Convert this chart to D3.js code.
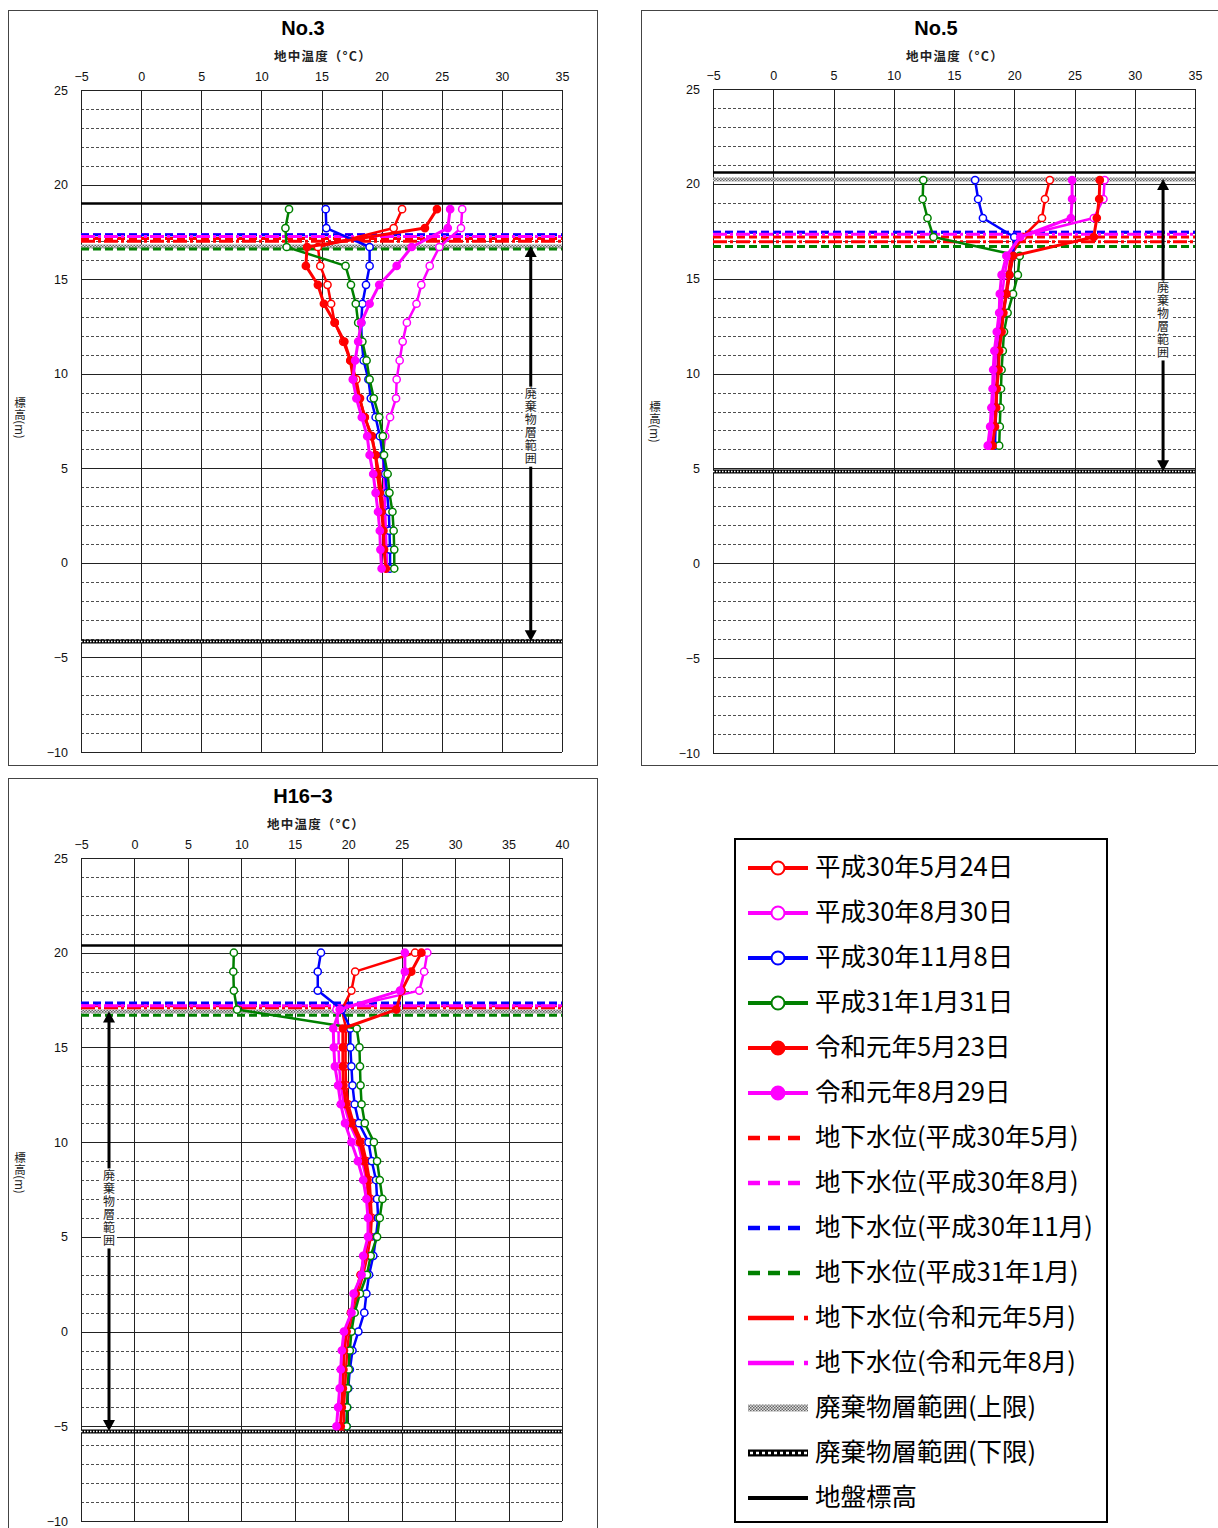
<!DOCTYPE html>
<html><head><meta charset="utf-8">
<script src="https://cdn.jsdelivr.net/npm/d3@7"></script>
<style>body{margin:0;background:#fff}svg{display:block}</style>
</head><body>
<svg id="c" width="1218" height="1528"></svg>
<script>
// ---------------- DATA ----------------
const seriesNames = ["平成30年5月24日","平成30年8月30日","平成30年11月8日","平成31年1月31日","令和元年5月23日","令和元年8月29日"];
const waterNames = ["地下水位(平成30年5月)","地下水位(平成30年8月)","地下水位(平成30年11月)","地下水位(平成31年1月)","地下水位(令和元年5月)","地下水位(令和元年8月)"];
const otherNames = ["廃棄物層範囲(上限)","廃棄物層範囲(下限)","地盤標高"];
const xTicks35 = [-5,0,5,10,15,20,25,30,35];
const xTicks40 = [-5,0,5,10,15,20,25,30,35,40];
const yTicks = [25,20,15,10,5,0,-5,-10];

// No.3
const no3Depth = [18.7,17.7,16.7,15.7,14.7,13.7,12.7,11.7,10.7,9.7,8.7,7.7,6.7,5.7,4.7,3.7,2.7,1.7,0.7,-0.3];
const no3_H30_05 = [21.7,21.0,14.7,14.9,15.5,15.8,16.1,16.8,17.4,17.9,18.2,18.6,19.2,19.5,19.8,20.0,20.2,20.3,20.35,20.4];
const no3_H30_08 = [26.7,26.6,24.8,24.0,23.3,22.9,22.1,21.75,21.5,21.25,21.2,20.7,20.3,20.1,20.2,20.25,20.3,20.35,20.4,20.45];
const no3_H30_11 = [15.35,15.4,19.0,19.0,18.7,18.4,18.3,18.35,18.5,18.9,19.1,19.5,19.85,20.1,20.3,20.45,20.6,20.65,20.7,20.7];
const no3_H31_01 = [12.3,12.0,12.1,17.0,17.45,17.85,18.05,18.4,18.75,19.0,19.35,19.8,20.1,20.2,20.5,20.65,20.9,21.0,21.05,21.05];
const no3_R1_05 = [24.6,23.6,13.8,13.7,14.7,15.2,16.1,16.9,17.4,17.65,18.15,18.6,19.15,19.5,19.65,19.85,20.0,20.15,20.2,20.35];
const no3_R1_08 = [25.7,25.5,22.5,21.25,19.8,19.0,18.3,18.05,17.8,17.6,17.9,18.35,18.8,19.0,19.3,19.5,19.7,19.85,19.9,20.0];
const no3Water = [17.15,17.35,17.35,16.6,17.0,17.25];
const no3Ground = 19.0, no3WasteTop = 16.75, no3WasteBottom = -4.15;

// No.5
const no5Depth = [20.2,19.2,18.2,17.2,16.2,15.2,14.2,13.2,12.2,11.2,10.2,9.2,8.2,7.2,6.2];
const no5_H30_05 = [22.95,22.55,22.3,20.7,19.7,19.5,19.3,19.05,18.85,18.7,18.6,18.5,18.45,18.35,18.3];
const no5_H30_08 = [27.5,27.4,26.6,20.3,19.5,19.2,19.0,18.9,18.7,18.5,18.4,18.3,18.25,18.15,18.0];
const no5_H30_11 = [16.75,17.0,17.4,20.0,19.9,19.6,19.35,19.1,18.9,18.75,18.65,18.55,18.5,18.45,18.4];
const no5_H31_01 = [12.45,12.4,12.8,13.3,20.45,20.3,19.9,19.45,19.15,19.05,18.95,18.9,18.85,18.8,18.75];
const no5_R1_05 = [27.1,27.05,26.85,26.6,19.9,19.6,19.35,19.1,18.95,18.75,18.7,18.55,18.5,18.4,18.2];
const no5_R1_08 = [24.8,24.8,24.7,20.5,19.35,18.95,18.8,18.75,18.55,18.35,18.25,18.2,18.1,18.0,17.8];
const no5Water = [17.2,17.45,17.45,16.7,16.95,17.35];
const no5Ground = 20.6, no5WasteTop = 20.25, no5WasteBottom = 4.85;

// H16-3
const h163Depth = [20,19,18,17,16,15,14,13,12,11,10,9,8,7,6,5,4,3,2,1,0,-1,-2,-3,-4,-5];
const h163_H30_05 = [26.25,20.65,20.3,19.4,19.8,19.75,19.75,19.8,20.0,20.5,21.3,21.7,22.0,22.1,22.2,22.1,21.8,21.4,20.9,20.4,20.1,19.9,19.8,19.7,19.6,19.6];
const h163_H30_08 = [27.4,27.1,26.65,18.9,19.1,19.1,19.15,19.3,19.6,20.1,20.9,21.3,21.7,21.9,22.0,21.95,21.6,21.3,20.7,20.3,19.9,19.65,19.55,19.45,19.35,19.25];
const h163_H30_11 = [17.45,17.15,17.15,19.4,20.2,20.2,20.3,20.4,20.6,21.0,21.9,22.2,22.6,22.7,22.8,22.6,22.35,21.95,21.7,21.5,20.95,20.4,20.15,20.0,19.9,19.85];
const h163_H31_01 = [9.3,9.25,9.3,9.6,20.8,21.05,21.1,21.15,21.25,21.55,22.4,22.7,22.95,23.2,22.95,22.7,22.1,21.75,21.1,20.6,20.3,20.15,20.05,19.95,19.9,19.85];
const h163_R1_05 = [26.85,25.9,25.0,24.5,19.5,19.5,19.5,19.55,19.8,20.3,21.1,21.5,21.8,21.9,22.0,21.9,21.55,21.15,20.7,20.25,19.85,19.6,19.55,19.5,19.4,19.3];
const h163_R1_08 = [25.3,25.3,24.85,19.2,18.6,18.65,18.75,19.05,19.3,19.7,20.3,20.9,21.4,21.7,21.85,21.85,21.4,21.25,20.5,20.3,19.6,19.4,19.3,19.2,19.05,18.9];
const h163Water = [17.2,17.25,17.35,16.7,17.1,17.2];
const h163Ground = 20.4, h163WasteTop = 16.9, h163WasteBottom = -5.25;

// ---------------- STYLES ----------------
const sStyle = [
  {c:"#ff0000", filled:false},{c:"#ff00ff", filled:false},{c:"#0000ff", filled:false},
  {c:"#008000", filled:false},{c:"#ff0000", filled:true},{c:"#ff00ff", filled:true}];
const wStyle = [
  {c:"#ff0000", d:"8,4"},{c:"#ff00ff", d:"8,4"},{c:"#0000ff", d:"8,4"},
  {c:"#008000", d:"8,4"},{c:"#ff0000", d:"14,3,3,3"},{c:"#ff00ff", d:"14,3,3,3"}];
const NUMF = "'Liberation Sans', Arial, sans-serif";
const JPF = "'Noto Sans CJK JP', sans-serif";

const svg = d3.select("#c");
const defs = svg.append("defs");
const pat = defs.append("pattern").attr("id","hatch").attr("width",3).attr("height",3).attr("patternUnits","userSpaceOnUse");
pat.append("rect").attr("width",3).attr("height",3).attr("fill","#e0e0e0");
pat.append("rect").attr("width",1.5).attr("height",1.5).attr("fill","#666");
pat.append("rect").attr("x",1.5).attr("y",1.5).attr("width",1.5).attr("height",1.5).attr("fill","#666");

const fmt = d => d < 0 ? "\u2212" + Math.abs(d) : String(d);

function drawPanel(p) {
  const g = svg.append("g");
  g.append("rect").attr("x",p.frame[0]+0.5).attr("y",p.frame[1]+0.5)
    .attr("width",p.frame[2]).attr("height",p.frame[3])
    .attr("fill","none").attr("stroke","#444").attr("stroke-width",1);
  const x = d3.scaleLinear().domain([p.xTicks[0], p.xTicks[p.xTicks.length-1]]).range([p.plot.x0,p.plot.x1]);
  const y = d3.scaleLinear().domain([-10,25]).range([p.plot.y1,p.plot.y0]);

  // titles
  g.append("text").attr("x",p.titleX).attr("y",p.titleY).attr("text-anchor","middle")
    .attr("dominant-baseline","middle").attr("font-family",NUMF).attr("font-weight","bold")
    .attr("font-size",20).text(p.name);
  g.append("text").attr("x",p.xlabX).attr("y",p.xlabY).attr("text-anchor","middle")
    .attr("dominant-baseline","middle").attr("font-family",JPF).attr("font-size",12.5)
    .attr("letter-spacing",1.2).attr("font-weight","bold").attr("fill","#222")
    .text("地中温度（°C）");
  g.append("text").attr("x",p.ylabX).attr("y",p.ylabY).attr("text-anchor","middle")
    .attr("font-family",JPF).attr("font-size",11.5).attr("fill","#222")
    .style("writing-mode","vertical-rl").text("標高(m)");

  // grid
  const minor = d3.range(-9,25).filter(v => v % 5 !== 0);
  g.append("g").selectAll("line").data(minor).join("line")
    .attr("x1",p.plot.x0).attr("x2",p.plot.x1)
    .attr("y1",d=>Math.round(y(d))+0.5).attr("y2",d=>Math.round(y(d))+0.5)
    .attr("stroke","#222").attr("stroke-width",0.8).attr("stroke-dasharray","3,2");
  g.append("g").selectAll("line").data(yTicks).join("line")
    .attr("x1",p.plot.x0).attr("x2",p.plot.x1)
    .attr("y1",d=>Math.round(y(d))+0.5).attr("y2",d=>Math.round(y(d))+0.5)
    .attr("stroke","#222").attr("stroke-width",1);
  g.append("g").selectAll("line").data(p.xTicks).join("line")
    .attr("y1",p.plot.y0).attr("y2",p.plot.y1)
    .attr("x1",d=>Math.round(x(d))+0.5).attr("x2",d=>Math.round(x(d))+0.5)
    .attr("stroke","#222").attr("stroke-width",1);

  // axes
  const ax = g.append("g").attr("transform",`translate(0,${p.plot.y0})`)
    .call(d3.axisTop(x).tickValues(p.xTicks).tickSize(0).tickPadding(9).tickFormat(fmt));
  ax.select(".domain").remove();
  ax.selectAll("text").attr("font-family",NUMF).attr("font-size",12.5).attr("fill","#111");
  const ay = g.append("g").attr("transform",`translate(${p.plot.x0},0)`)
    .call(d3.axisLeft(y).tickValues(yTicks).tickSize(0).tickPadding(13).tickFormat(fmt));
  ay.select(".domain").remove();
  ay.selectAll("text").attr("font-family",NUMF).attr("font-size",12.5).attr("fill","#111");

  // horizontal reference lines
  const hl = (v) => Math.round(y(v))+0.5;
  g.append("line").attr("x1",p.plot.x0).attr("x2",p.plot.x1).attr("y1",hl(p.ground)).attr("y2",hl(p.ground))
    .attr("stroke","#000").attr("stroke-width",2.5);
  g.append("line").attr("x1",p.plot.x0).attr("x2",p.plot.x1).attr("y1",hl(p.wasteTop)).attr("y2",hl(p.wasteTop))
    .attr("stroke","url(#hatch)").attr("stroke-width",4);
  g.append("line").attr("x1",p.plot.x0).attr("x2",p.plot.x1).attr("y1",hl(p.wasteBottom)).attr("y2",hl(p.wasteBottom))
    .attr("stroke","#000").attr("stroke-width",4);
  g.append("line").attr("x1",p.plot.x0).attr("x2",p.plot.x1).attr("y1",hl(p.wasteBottom)).attr("y2",hl(p.wasteBottom))
    .attr("stroke","#fff").attr("stroke-width",1.3).attr("stroke-dasharray","1.5,1.5");
  g.append("g").selectAll("line").data(p.water).join("line")
    .attr("x1",p.plot.x0).attr("x2",p.plot.x1).attr("y1",d=>y(d)).attr("y2",d=>y(d))
    .attr("stroke",(d,i)=>wStyle[i].c).attr("stroke-width",3).attr("stroke-dasharray",(d,i)=>wStyle[i].d);

  // arrow
  const ax0 = x(p.arrowT), yt = y(p.wasteTop), yb = y(p.wasteBottom);
  g.append("line").attr("x1",ax0).attr("x2",ax0).attr("y1",yt+8).attr("y2",yb-8)
    .attr("stroke","#000").attr("stroke-width",3);
  g.append("path").attr("d",`M${ax0},${yt}l-6,11h12z`).attr("fill","#000");
  g.append("path").attr("d",`M${ax0},${yb}l-6,-11h12z`).attr("fill","#000");
  const ly = y(p.labelElev);
  g.append("rect").attr("x",ax0-8).attr("y",ly-40).attr("width",16).attr("height",80).attr("fill","#fff");
  g.append("text").attr("x",ax0).attr("y",ly).attr("text-anchor","middle")
    .attr("font-family",JPF).attr("font-size",12).attr("letter-spacing",1).attr("fill","#222")
    .style("writing-mode","vertical-rl").text("廃棄物層範囲");

  // series
  const line = d3.line().x(d=>x(d[0])).y(d=>y(d[1]));
  p.series.forEach((vals,i) => {
    const pts = vals.map((v,k)=>[v,p.depth[k]]);
    const st = sStyle[i];
    const sg = g.append("g");
    sg.append("path").datum(pts).attr("d",line).attr("fill","none")
      .attr("stroke",st.c).attr("stroke-width",st.filled?3:2.5).attr("stroke-linejoin","round");
    sg.selectAll("circle").data(pts).join("circle")
      .attr("cx",d=>x(d[0])).attr("cy",d=>y(d[1])).attr("r",3.6)
      .attr("fill",st.filled?st.c:"#fff").attr("stroke",st.c).attr("stroke-width",1.5);
  });
}

const panels = [
  {name:"No.3", frame:[8,10,589,755], plot:{x0:81,x1:562,y0:90,y1:752}, xTicks:xTicks35,
   titleX:303, titleY:30, xlabX:323, xlabY:58, ylabX:20, ylabY:418,
   depth:no3Depth, series:[no3_H30_05,no3_H30_08,no3_H30_11,no3_H31_01,no3_R1_05,no3_R1_08],
   water:no3Water, ground:no3Ground, wasteTop:no3WasteTop, wasteBottom:no3WasteBottom, arrowT:32.4, labelElev:7.2},
  {name:"No.5", frame:[641,10,577,755], plot:{x0:713,x1:1195,y0:89,y1:753}, xTicks:xTicks35,
   titleX:936, titleY:30, xlabX:955, xlabY:58, ylabX:655, ylabY:422,
   depth:no5Depth, series:[no5_H30_05,no5_H30_08,no5_H30_11,no5_H31_01,no5_R1_05,no5_R1_08],
   water:no5Water, ground:no5Ground, wasteTop:no5WasteTop, wasteBottom:no5WasteBottom, arrowT:32.35, labelElev:12.8},
  {name:"H16\u22123", frame:[8,778,589,760], plot:{x0:81,x1:562,y0:858,y1:1521}, xTicks:xTicks40,
   titleX:303, titleY:798, xlabX:316, xlabY:826, ylabX:20, ylabY:1173,
   depth:h163Depth, series:[h163_H30_05,h163_H30_08,h163_H30_11,h163_H31_01,h163_R1_05,h163_R1_08],
   water:h163Water, ground:h163Ground, wasteTop:h163WasteTop, wasteBottom:h163WasteBottom, arrowT:-2.38, labelElev:6.5}
];
panels.forEach(drawPanel);

// ---------------- LEGEND ----------------
const lg = svg.append("g");
lg.append("rect").attr("x",735).attr("y",839).attr("width",372).attr("height",683)
  .attr("fill","#fff").attr("stroke","#000").attr("stroke-width",2);
const legendNames = seriesNames.concat(waterNames, otherNames);
const ly0 = 868, lstep = 45, lx0 = 748, lx1 = 808;
legendNames.forEach((name,i) => {
  const yy = ly0 + i*lstep;
  const gg = lg.append("g");
  if (i < 6) {
    const st = sStyle[i];
    gg.append("line").attr("x1",lx0).attr("x2",lx1).attr("y1",yy).attr("y2",yy)
      .attr("stroke",st.c).attr("stroke-width",4);
    gg.append("circle").attr("cx",(lx0+lx1)/2).attr("cy",yy).attr("r",6.5)
      .attr("fill",st.filled?st.c:"#fff").attr("stroke",st.c).attr("stroke-width",2);
  } else if (i < 12) {
    const st = wStyle[i-6];
    const dash = i < 10 ? "12,8" : "46,10,5,30";
    gg.append("line").attr("x1",lx0).attr("x2",lx1).attr("y1",yy).attr("y2",yy)
      .attr("stroke",st.c).attr("stroke-width",4.5).attr("stroke-dasharray",dash);
  } else if (i === 12) {
    gg.append("rect").attr("x",lx0).attr("y",yy-3.5).attr("width",lx1-lx0).attr("height",7).attr("fill","url(#hatch)");
  } else if (i === 13) {
    gg.append("line").attr("x1",lx0).attr("x2",lx1).attr("y1",yy).attr("y2",yy)
      .attr("stroke","#000").attr("stroke-width",7);
    gg.append("line").attr("x1",lx0+2).attr("x2",lx1).attr("y1",yy).attr("y2",yy)
      .attr("stroke","#fff").attr("stroke-width",2.5).attr("stroke-dasharray","3,3");
  } else {
    gg.append("line").attr("x1",lx0).attr("x2",lx1).attr("y1",yy).attr("y2",yy)
      .attr("stroke","#000").attr("stroke-width",4);
  }
  gg.append("text").attr("x",815).attr("y",yy+1).attr("dominant-baseline","middle")
    .attr("font-family",JPF).attr("font-size",25.5).attr("fill","#000").text(name);
});
</script>
</body></html>
